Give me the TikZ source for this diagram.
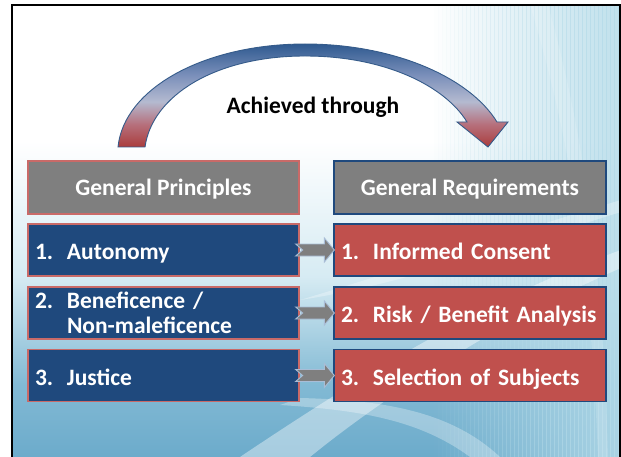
\documentclass[tikz,border=0pt]{standalone}
\usepackage{fontspec}
\setmainfont{Carlito}
\usetikzlibrary{calc}

\definecolor{navy}{HTML}{1F497D}
\definecolor{brick}{HTML}{C0504D}
\definecolor{slate}{HTML}{7F7F7F}
\definecolor{arrowedge}{HTML}{A9BDD6}
\definecolor{skyA}{HTML}{6CABCB}
\definecolor{skyB}{HTML}{B5DBE9}

% background: white at the top, deepening to blue towards the bottom
% (a shading's 25bp..75bp band is what covers the filled path)
\pgfdeclareverticalshading{slidebg}{100bp}{
  color(0bp)=(skyA); color(25bp)=(skyA); color(33bp)=(skyA!70!skyB);
  color(45bp)=(skyB!55!white); color(60bp)=(white); color(100bp)=(white)}

% curved arrow: dark blue on top, pale in the middle, red at the ends
\pgfdeclareverticalshading{arcshade}{100bp}{
  color(0bp)=(rgb,255:red,168;green,58;blue,58);
  color(25bp)=(rgb,255:red,170;green,60;blue,60);
  color(36bp)=(rgb,255:red,182;green,112;blue,124);
  color(47bp)=(rgb,255:red,180;green,186;blue,208);
  color(60bp)=(rgb,255:red,122;green,143;blue,186);
  color(75bp)=(rgb,255:red,47;green,90;blue,144);
  color(100bp)=(rgb,255:red,47;green,90;blue,144)}

\tikzset{
  txt/.style={text=white, font=\bfseries\fontsize{23.5}{25}\selectfont},
  header/.style={txt, fill=slate, line width=1.3pt, minimum height=53pt, inner sep=0pt,
    text height=17pt, text depth=0pt},
  leftbox/.style={txt, fill=navy, draw=brick!85!white, line width=1.3pt,
    minimum width=271pt, minimum height=52pt, text width=257pt, align=left, inner xsep=7pt},
  rightbox/.style={txt, fill=brick, draw=navy, line width=1.3pt,
    minimum width=272pt, minimum height=52pt, text width=258pt, align=left, inner xsep=7pt},
  oneline/.style={text height=19pt, text depth=0pt, inner ysep=0pt},
  blockarrow/.style={fill=slate, draw=arrowedge, line width=0.9pt, line join=miter},
  swoosh/.style={fill=white, opacity=#1},
}
\newcommand{\num}[1]{\makebox[32pt][l]{#1}}
\newcommand{\arcpath}{%
  (118,147) .. controls (124,88) and (205,44) .. (305,44)
  .. controls (395,44) and (470,78) .. (497,122)
  -- (508,122) -- (488,147) -- (457,122) -- (467,122)
  .. controls (445,86) and (385,56) .. (305,56)
  .. controls (215,56) and (152,96) .. (145,147) -- cycle}

\begin{document}
\begin{tikzpicture}[x=1pt,y=-1pt]
\useasboundingbox (0,0) rectangle (621,457);

% slide background
\fill[white] (0,0) rectangle (621,457);
\shade[shading=slidebg] (12,5) rectangle (621,457);
% pale blue tint growing towards the right edge
\foreach \k in {0,...,47}{
  \fill[skyB, opacity=\k/47*0.85] (430+\k*4,5) rectangle (434.5+\k*4,457);
}
\fill[swoosh=0.4] (240,457) .. controls (340,390) and (480,300) .. (621,250)
  -- (621,268) .. controls (500,320) and (380,400) .. (310,457) -- cycle;
\fill[swoosh=0.3] (300,300) .. controls (400,270) and (520,230) .. (621,200)
  -- (621,212) .. controls (520,243) and (400,285) .. (300,300) -- cycle;
\fill[swoosh=0.3] (470,457) .. controls (420,420) and (360,410) .. (280,405)
  -- (300,398) .. controls (380,400) and (450,410) .. (500,457) -- cycle;
\fill[swoosh=0.15] (530,5) .. controls (565,120) and (590,250) .. (598,457)
  -- (608,457) .. controls (602,250) and (580,120) .. (548,5) -- cycle;

% slide frame
\draw[black, line width=2pt] (12,457) -- (12,5) -- (620,5) -- (620,457);

% curved "achieved through" arrow
\shade[shading=arcshade] \arcpath;
\draw[navy!90!white, line width=0.9pt, line join=miter] \arcpath;
\node[font=\bfseries\fontsize{23.5}{25}\selectfont, text=black] (ach) at (313,107) {Achieved through};

% column headers
\node[header, draw=brick!85!white, minimum width=271pt] (gp) at (163.5,187.5) {General Principles};
\node[header, draw=navy, minimum width=272pt] (gr) at (470,187.5) {General Requirements};

% principles
\node[leftbox, oneline] (p1) at (163.5,250) {\num{1.}Autonomy};
\node[leftbox] (p2) at (163.5,313) {\num{2.}Beneficence /\\\hspace*{32pt}Non-maleficence};
\node[leftbox, oneline] (p3) at (163.5,375.5) {\num{3.}Justice};

% requirements
\node[rightbox, oneline] (r1) at (470,250) {\num{1.}Informed Consent};
\node[rightbox, oneline] (r2) at (470,313) {\num{2.}Risk / Benefit Analysis};
\node[rightbox, oneline] (r3) at (470,375.5) {\num{3.}Selection of Subjects};

% notched block arrows from each principle to its requirement
\foreach \i in {1,2,3}{
  \draw[blockarrow]
    ($(p\i.east)+(-4,-6)$) -- ($(r\i.west)+(-9,-6)$) -- ($(r\i.west)+(-9,-12)$)
    -- ($(r\i.west)+(1,0)$) -- ($(r\i.west)+(-9,12)$) -- ($(r\i.west)+(-9,6)$)
    -- ($(p\i.east)+(-4,6)$) -- ($(p\i.east)+(3,0)$) -- cycle;
}
\end{tikzpicture}
\end{document}
